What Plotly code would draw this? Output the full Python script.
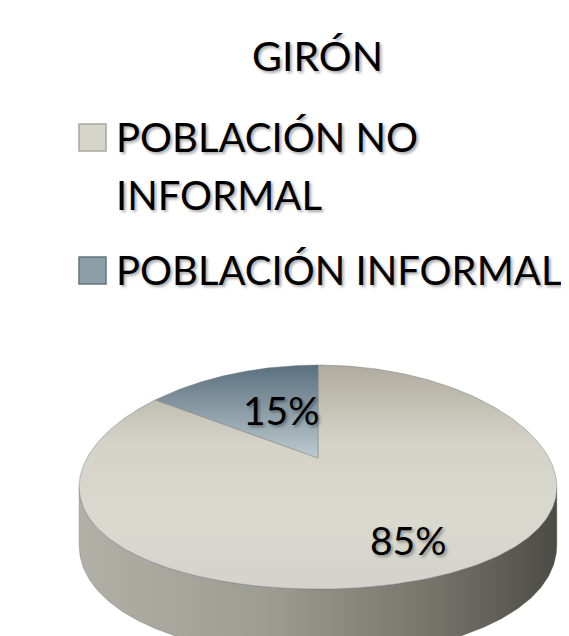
import numpy as np
import plotly.graph_objects as go

# ---------------- data ----------------
categories = ["POBLACIÓN NO INFORMAL", "POBLACIÓN INFORMAL"]
values = [85, 15]
title_text = "GIRÓN"
legend_lines = [["POBLACIÓN NO", "INFORMAL"], ["POBLACIÓN INFORMAL"]]

# ---------------- style / layout constants ----------------
W, H = 569, 636
OFF = 8  # page body margin: axis units == screen pixels
FONT = "Lato"
cx, cy = 318, 458
A, B = 231, 108.8
kx, ky = 0.254, 0.17
D = 56

top_scales = [
    [[0, "#b0ab9f"], [0.35, "#d5d3c8"], [0.7, "#dad9d0"], [1, "#d3d3cb"]],
    [[0, "#5a6f7f"], [1, "#bccbce"]],
]
side_scales = [
    [[0, "#b0b0a7"], [0.4, "#9c9c93"], [0.75, "#73736a"], [1, "#4c4c46"]],
    [[0, "#6f7f88"], [1, "#3e4a52"]],
]
swatch_fill = ["#d6d5ca", "#8c9ea8"]
swatch_line = ["#a9a69c", "#63757f"]
label_pos = [(408, 540), (281, 410)]


def edge(theta_deg, side=False):
    t = np.radians(np.asarray(theta_deg, dtype=float))
    s, c = np.sin(t), np.cos(t)
    x = cx + A * c / (1 + kx * s)
    y = cy - B * s / (1 + ky * s)
    if side:
        y = y + D / (1 + ky * s)
    return x, y


fig = go.Figure()

total = float(sum(values))
starts, ends = [], []
a = 90.0
for v in values:
    starts.append(a)
    a = a - 360.0 * v / total
    ends.append(a)

sil = np.degrees(np.arcsin(kx))
# side bands (front, visible part only)
for i, (a0, a1) in enumerate(zip(starts, ends)):
    for k in (-1, 0, 1):
        lo = max(a1, -180 + sil + 360 * k)
        hi = min(a0, -sil + 360 * k)
        if lo < hi:
            ang = np.linspace(hi, lo, 200)
            xt, yt = edge(ang)
            xb, yb = edge(ang[::-1], side=True)
            xs = np.concatenate([xt, xb, xt[:1]])
            ys = np.concatenate([yt, yb, yt[:1]])
            fig.add_trace(go.Scatter(
                x=xs, y=ys, mode="lines", fill="toself",
                line=dict(width=0.6, color="rgba(90,90,85,0.5)"),
                fillgradient=dict(type="horizontal", colorscale=side_scales[i],
                                  start=float(xs.min()), stop=float(xs.max())),
                hoverinfo="skip", showlegend=False))

# top faces
for i, (a0, a1) in enumerate(zip(starts, ends)):
    ang = np.linspace(a0, a1, 300)
    xe, ye = edge(ang)
    xs = np.concatenate([[cx], xe, [cx]])
    ys = np.concatenate([[cy], ye, [cy]])
    fig.add_trace(go.Scatter(
        x=xs, y=ys, mode="lines", fill="toself",
        line=dict(width=0.8, color="rgba(110,120,120,0.55)"),
        fillgradient=dict(type="vertical", colorscale=top_scales[i],
                          start=float(ys.min()), stop=float(ys.max())),
        name=categories[i], hoverinfo="skip", showlegend=False))

shadow = "2px 2px 3px rgba(0,0,0,0.35)"
annotations = []
# percentage labels
for i, v in enumerate(values):
    px, py = label_pos[i]
    annotations.append(dict(
        x=px, y=py, xref="x", yref="y", text=f"{round(100 * v / total)}%",
        showarrow=False, xanchor="center", yanchor="middle",
        font=dict(family=FONT, size=39, color="#000000", shadow=shadow)))

# title
annotations.append(dict(
    x=317, y=55, xref="x", yref="y", text=title_text, showarrow=False,
    xanchor="center", yanchor="middle",
    font=dict(family=FONT, size=41, color="#000000", shadow=shadow)))

# legend
line_y = [[137, 195], [270]]
swatch_y = [124, 257]
shapes = []
for i, lines in enumerate(legend_lines):
    shapes.append(dict(type="rect", xref="x", yref="y", x0=79, x1=106,
                       y0=swatch_y[i], y1=swatch_y[i] + 27,
                       fillcolor=swatch_fill[i],
                       line=dict(color=swatch_line[i], width=1.5)))
    for j, t in enumerate(lines):
        annotations.append(dict(
            x=114, y=line_y[i][j], xref="x", yref="y", text=t, showarrow=False,
            xanchor="left", yanchor="middle",
            font=dict(family=FONT, size=40, color="#000000", shadow=shadow)))

fig.update_layout(
    width=W - OFF, height=H - OFF, margin=dict(l=0, r=0, t=0, b=0),
    paper_bgcolor="white", plot_bgcolor="white",
    xaxis=dict(range=[OFF, W], visible=False, fixedrange=True),
    yaxis=dict(range=[H, OFF], visible=False, fixedrange=True),
    annotations=annotations, shapes=shapes, showlegend=False,
)

fig.write_html("out.html")
